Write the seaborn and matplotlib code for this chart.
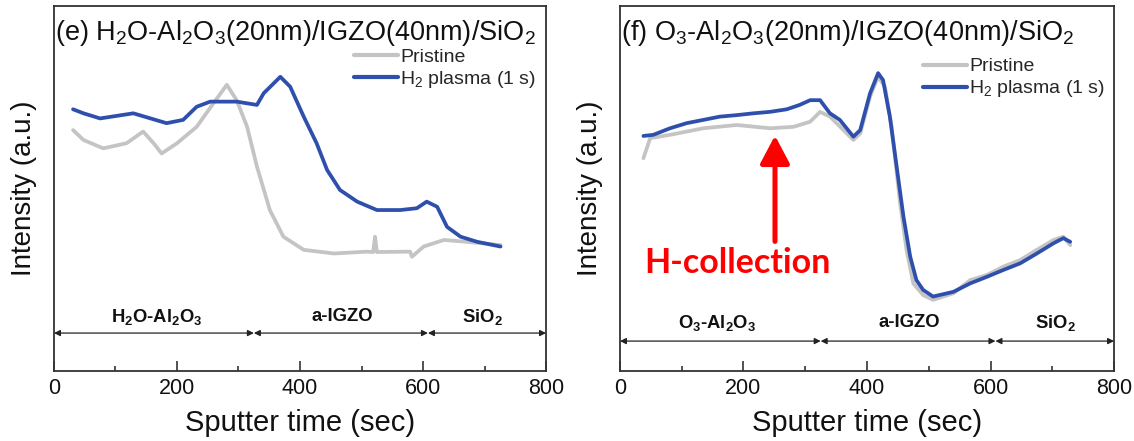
import numpy as np
import pandas as pd
import matplotlib
matplotlib.use("Agg")
import matplotlib.pyplot as plt
import seaborn as sns

# ---------------- data ----------------
# Panel (e) H2O-Al2O3
e_pristine_t = [31, 48, 80, 118, 145, 162, 175, 200, 232, 259, 281, 297, 314, 330, 351, 373,
                406, 455, 509, 519, 522, 525, 579, 582, 601, 634, 671, 726]
e_pristine_i = [66.0, 63.3, 61.0, 62.4, 65.6, 62.4, 59.6, 62.4, 66.9, 73.3, 78.4, 74.2, 66.9, 56.0, 44.1, 36.8,
                33.2, 32.2, 32.7, 32.6, 36.8, 32.6, 32.7, 31.3, 34.1, 35.9, 35.4, 34.5]
e_plasma_t = [31, 48, 75, 129, 183, 210, 232, 254, 297, 330, 341, 368, 384, 406, 427, 444, 465,
              493, 525, 563, 590, 606, 623, 639, 661, 688, 726]
e_plasma_i = [71.7, 70.6, 69.2, 70.6, 67.9, 68.8, 72.4, 73.8, 73.8, 72.9, 76.1, 80.6, 77.9, 69.7, 62.4, 55.1, 49.6,
              46.4, 44.1, 44.1, 44.6, 46.4, 45.0, 39.5, 36.8, 35.4, 34.1]

# Panel (f) O3-Al2O3
f_pristine_t = [38, 49, 81, 135, 189, 243, 281, 308, 324, 340, 378, 389, 405, 418, 429, 440, 453,
                464, 475, 491, 507, 540, 567, 594, 621, 648, 675, 702, 718, 729]
f_pristine_i = [58.3, 63.8, 64.7, 66.5, 67.4, 66.5, 66.9, 68.3, 71.0, 69.7, 63.3, 65.1, 75.2, 80.6, 77.9, 66.9, 46.8,
                33.2, 24.0, 20.8, 19.5, 21.3, 24.9, 26.3, 28.6, 30.4, 33.2, 35.9, 36.8, 34.5]
f_plasma_t = [38, 54, 81, 108, 135, 162, 189, 216, 243, 270, 291, 308, 324, 340, 356, 378, 389, 405,
              418, 426, 437, 448, 459, 470, 480, 491, 507, 540, 567, 594, 621, 648, 675, 702, 718, 729]
f_plasma_i = [64.4, 64.7, 66.5, 67.9, 68.8, 69.7, 70.1, 70.6, 71.0, 71.7, 72.9, 74.2, 74.2, 70.6, 68.8, 64.2, 66.0, 76.1,
              81.6, 79.7, 69.7, 56.0, 42.3, 31.3, 24.9, 22.2, 20.4, 21.7, 24.0, 25.8, 27.7, 29.5, 32.2, 35.0, 36.4, 35.4]

series_labels = ["Pristine", "H$_2$ plasma (1 s)"]
e_title = "(e) H$_2$O-Al$_2$O$_3$(20nm)/IGZO(40nm)/SiO$_2$"
f_title = "(f) O$_3$-Al$_2$O$_3$(20nm)/IGZO(40nm)/SiO$_2$"
e_layers = ["H$_2$O-Al$_2$O$_3$", "a-IGZO", "SiO$_2$"]
f_layers = ["O$_3$-Al$_2$O$_3$", "a-IGZO", "SiO$_2$"]
layer_bounds = [0, 325, 608, 800]
e_layer_centers = [167, 469, 696]
f_layer_centers = [158, 469, 705]
xticks = [0, 200, 400, 600, 800]

# ---------------- style ----------------
sns.set_theme(style="ticks")
plt.rcParams["font.family"] = ["Liberation Sans", "DejaVu Sans"]
plt.rcParams["mathtext.fontset"] = "custom"
plt.rcParams["mathtext.rm"] = "Liberation Sans"
plt.rcParams["mathtext.it"] = "Liberation Sans:italic"
plt.rcParams["mathtext.bf"] = "Liberation Sans:bold"
plt.rcParams["mathtext.default"] = "regular"

GRAY = "#c4c4c4"
BLUE = "#2f4fac"

fig = plt.figure(figsize=(11.34, 4.41), dpi=100)
ax_e = fig.add_axes([0.0476, 0.1587, 0.4339, 0.8277])
ax_f = fig.add_axes([0.5467, 0.1587, 0.4357, 0.8277])


def draw(ax, pt, pi, bt, bi, title, layers, centers, arrow_y, label_y, leg_x, leg_y):
    dp = pd.DataFrame({"t": pt, "I": pi})
    db = pd.DataFrame({"t": bt, "I": bi})
    sns.lineplot(data=dp, x="t", y="I", ax=ax, color=GRAY, linewidth=2.7,
                 label=series_labels[0], sort=False)
    sns.lineplot(data=db, x="t", y="I", ax=ax, color=BLUE, linewidth=2.7,
                 label=series_labels[1], sort=False)
    ax.set_xlim(0, 800)
    ax.set_ylim(0, 100)
    ax.set_xticks(xticks)
    ax.set_xticks([100, 300, 500, 700], minor=True)
    ax.set_yticks([])
    ax.tick_params(axis="x", which="major", direction="in", length=7, width=1.1,
                   labelsize=15.5, pad=5, top=False, colors="#222222", labelcolor="#111111")
    ax.tick_params(axis="x", which="minor", direction="in", length=3.5, width=1.1, top=False,
                   colors="#222222")
    for s in ax.spines.values():
        s.set_linewidth(1.3)
        s.set_color("#333333")
    ax.set_xlabel("Sputter time (sec)", fontsize=21, labelpad=7, color="#111111")
    ax.set_ylabel("Intensity (a.u.)", fontsize=20, labelpad=12, color="#111111")
    ax.text(0.002, 0.926, title, transform=ax.transAxes, fontsize=19.5, va="center",
            ha="left", color="#111111")
    leg = ax.legend(loc="upper right", bbox_to_anchor=(leg_x, leg_y), frameon=False,
                    fontsize=14, handlelength=2.3, handletextpad=0.1, labelspacing=0.15,
                    borderpad=0, borderaxespad=0)
    for h in leg.get_lines():
        h.set_linewidth(3)
    # layer arrows
    for i in range(3):
        a, b = layer_bounds[i], layer_bounds[i + 1]
        ax.annotate("", xy=(b, arrow_y), xytext=(a, arrow_y),
                    arrowprops=dict(arrowstyle="<|-|>", color="#222222", lw=0.9,
                                    mutation_scale=9, shrinkA=0, shrinkB=0))
        ax.text(centers[i], label_y, layers[i], ha="center", va="center", fontsize=13.3,
                fontweight="bold", color="#111111")


draw(ax_e, e_pristine_t, e_pristine_i, e_plasma_t, e_plasma_i, e_title, e_layers,
     e_layer_centers, 10.4, 14.9, 0.98, 0.885)
draw(ax_f, f_pristine_t, f_pristine_i, f_plasma_t, f_plasma_i, f_title, f_layers,
     f_layer_centers, 8.2, 13.2, 0.982, 0.858)

# H-collection annotation
ax_f.annotate("", xy=(251, 64.5), xytext=(251, 35.5),
              arrowprops=dict(arrowstyle="-|>,head_width=0.45,head_length=0.85", color="#ff0000",
                              lw=3.6, mutation_scale=20, shrinkA=0, shrinkB=0))
ax_f.text(191, 29.6, "H-collection", ha="center", va="center", fontsize=24.5,
          fontweight="bold", color="#ff0000", family=["Lato", "DejaVu Sans"])

fig.savefig("out.png", dpi=100)
